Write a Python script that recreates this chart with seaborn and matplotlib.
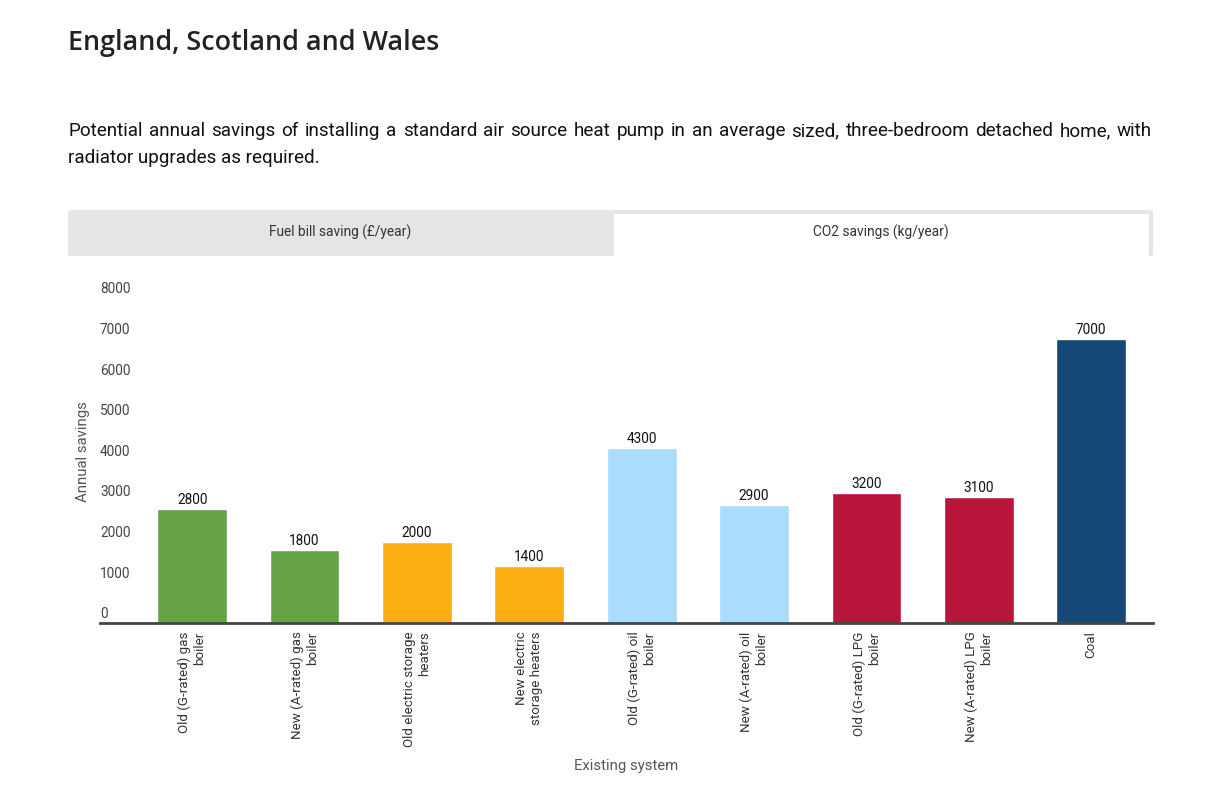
import matplotlib
matplotlib.use("Agg")
import matplotlib.pyplot as plt
import matplotlib.transforms as mtrans
import seaborn as sns
import pandas as pd
from matplotlib.patches import Rectangle, FancyBboxPatch

categories = [
    "Old (G-rated) gas\nboiler",
    "New (A-rated) gas\nboiler",
    "Old electric storage\nheaters",
    "New electric\nstorage heaters",
    "Old (G-rated) oil\nboiler",
    "New (A-rated) oil\nboiler",
    "Old (G-rated) LPG\nboiler",
    "New (A-rated) LPG\nboiler",
    "Coal",
]
savings = [2800, 1800, 2000, 1400, 4300, 2900, 3200, 3100, 7000]
bar_colors = ["#65a346", "#65a346", "#fdae10", "#fdae10", "#aadcfe",
              "#aadcfe", "#b9153b", "#b9153b", "#154877"]
y_ticks = [0, 1000, 2000, 3000, 4000, 5000, 6000, 7000, 8000]
tab_labels = ["Fuel bill saving (£/year)", "CO2 savings (kg/year)"]
title = "England, Scotland and Wales"
subtitle_1 = ("Potential annual savings of installing a standard air source heat pump in an "
              "average sized, three-bedroom detached home, with")
subtitle_2 = "radiator upgrades as required."

sns.set_theme(style="white")
plt.rcParams["font.family"] = ["Roboto", "DejaVu Sans"]

W, H = 1220, 806
fig = plt.figure(figsize=(W / 100, H / 100), dpi=100)
fig.patch.set_facecolor("white")

def fx(px):
    return px / W

def fy(py):
    return 1 - py / H

# Title
fig.text(fx(68), fy(43), title, fontsize=19.4, fontweight="semibold",
         family=["Open Sans", "DejaVu Sans"], color="#222222", va="center", ha="left")

# Subtitle, first line justified between x=68 and x=1152
renderer = fig.canvas.get_renderer()
sub_fs = 13.6
words = subtitle_1.split(" ")
tmp = [fig.text(0, 0, w, fontsize=sub_fs) for w in words]
widths = [t.get_window_extent(renderer).width for t in tmp]
for t in tmp:
    t.remove()
gap = (1152 - 68 - sum(widths)) / (len(words) - 1)
xpos = 68
for w, wd in zip(words, widths):
    fig.text(fx(xpos), fy(136), w, fontsize=sub_fs, color="#111111", va="baseline", ha="left")
    xpos += wd + gap
fig.text(fx(68), fy(163), subtitle_2, fontsize=sub_fs, color="#111111", va="baseline", ha="left")

# Tabs
fig.patches.append(FancyBboxPatch((fx(68), fy(256)), fx(1153) - fx(68), fy(210) - fy(256),
                                  boxstyle="round,pad=0,rounding_size=0.003",
                                  transform=fig.transFigure, facecolor="#e5e5e5",
                                  edgecolor="none", zorder=0))
fig.patches.append(Rectangle((fx(614), fy(256)), fx(1149) - fx(614), fy(214) - fy(256),
                             transform=fig.transFigure, facecolor="white",
                             edgecolor="none", zorder=1))
fig.text(fx(340), fy(232), tab_labels[0], fontsize=9.9, color="#333333", ha="center", va="center")
fig.text(fx(881), fy(232), tab_labels[1], fontsize=9.9, color="#333333", ha="center", va="center")

# Chart axes
ax_left, ax_right, ax_top, ax_bottom = 100, 1153, 298, 623
ax = fig.add_axes([fx(ax_left), fy(ax_bottom), fx(ax_right) - fx(ax_left), fy(ax_top) - fy(ax_bottom)])
df = pd.DataFrame({"system": categories, "saving": savings})
sns.barplot(data=df, x="system", y="saving", hue="system", palette=bar_colors,
            width=0.62, legend=False, ax=ax, saturation=1)

ax.set_xlim(-0.82, 8.55)
ax.set_ylim(0, 8000)
for s in ["top", "right", "left"]:
    ax.spines[s].set_visible(False)
ax.spines["bottom"].set_color("#444444")
ax.spines["bottom"].set_linewidth(2)
ax.set_facecolor("none")

ax.set_yticks(y_ticks)
ax.set_yticklabels([])
ax.tick_params(axis="y", length=0)
off = mtrans.ScaledTranslation(0, 1.2 / 72, fig.dpi_scale_trans)
for t in y_ticks:
    ax.text(0.0, t, f"{t}", transform=ax.get_yaxis_transform() + off,
            ha="left", va="bottom", fontsize=9.8, color="#444444")

ax.tick_params(axis="x", length=0, pad=6)
for lab in ax.get_xticklabels():
    lab.set_rotation(90)
    lab.set_ha("center")
    lab.set_va("top")
    lab.set_multialignment("right")
    lab.set_fontsize(9.6)
    lab.set_color("#333333")

for cont in ax.containers:
    ax.bar_label(cont, fmt="{:.0f}", padding=1.5, fontsize=9.8, color="#111111")

ax.set_ylabel("Annual savings", fontsize=10.7, color="#555555")
ax.yaxis.set_label_coords((90 - ax_left) / (ax_right - ax_left), (623 - 452) / (623 - 298))
ax.set_xlabel("Existing system", fontsize=10.7, color="#555555")
ax.xaxis.set_label_coords((626 - ax_left) / (ax_right - ax_left), (623 - 759) / (623 - 298))

fig.savefig("out.png", dpi=100, facecolor="white")
